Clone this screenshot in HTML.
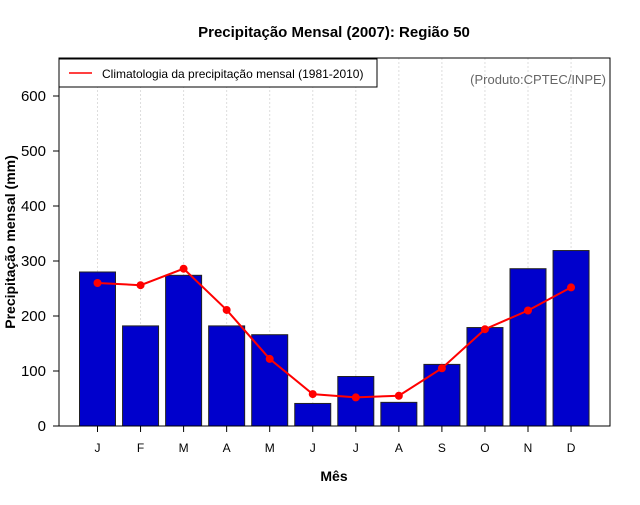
<!DOCTYPE html>
<html><head><meta charset="utf-8"><style>body{margin:0;background:#fff}svg text{font-family:"Liberation Sans",sans-serif}</style></head>
<body>
<svg width="640" height="500" xmlns="http://www.w3.org/2000/svg">
<rect width="640" height="500" fill="#fff"/>
<text x="334" y="37" text-anchor="middle" font-size="15" font-weight="bold">Precipitação Mensal (2007): Região 50</text>
<g id="grid"></g>
<g id="bars"></g>
<g id="line"></g>
<rect x="59" y="58" width="551" height="368" fill="none" stroke="#000" stroke-width="1"/>
<g id="yaxis" font-size="15"></g>
<g id="xaxis" font-size="12"></g>
<text x="334" y="481" text-anchor="middle" font-size="14" font-weight="bold">Mês</text>
<text transform="translate(15,242) rotate(-90)" text-anchor="middle" font-size="14" font-weight="bold">Precipitação mensal (mm)</text>
<g>
<rect x="59" y="59" width="318" height="28" fill="#fff" stroke="#000" stroke-width="1"/>
<line x1="69" y1="73" x2="92" y2="73" stroke="red" stroke-width="1.5"/>
<text x="102" y="78" font-size="12">Climatologia da precipitação mensal (1981-2010)</text>
</g>
<text x="606" y="84" text-anchor="end" font-size="13" fill="#666">(Produto:CPTEC/INPE)</text>
</svg>
<script>
const months = ["J","F","M","A","M","J","J","A","S","O","N","D"];
const observed = [280,182,274,182,166,41,90,43,112,179,286,319];
const climatology = [260,256,286,211,122,58,52,55,105,176,210,252];
const yTicks = [0,100,200,300,400,500,600];
const ns = "http://www.w3.org/2000/svg";
const xs = i => 97.5 + i*43.05;
const ys = v => 426 - v*0.55;
function mk(tag, attrs, parent){const e=document.createElementNS(ns,tag);for(const k in attrs)e.setAttribute(k,attrs[k]);document.getElementById(parent).appendChild(e);return e;}
months.forEach((m,i)=>{
  const g=mk("line",{x1:xs(i),x2:xs(i),y1:58,y2:426,stroke:"#ddd","stroke-dasharray":"2,2"},"grid");
  
  
  const b=mk("rect",{x:xs(i)-18,y:ys(observed[i]),width:36,height:ys(0)-ys(observed[i]),fill:"#0000cc",stroke:"#222","stroke-width":1},"bars");
  
  
  const t=mk("line",{x1:xs(i),x2:xs(i),y1:426,y2:432,stroke:"#000"},"xaxis");
  
  
  const l=mk("text",{x:xs(i),y:452,"text-anchor":"middle"},"xaxis");
  l.textContent=m;
  
  
});
const p=mk("polyline",{points:climatology.map((v,i)=>xs(i)+","+ys(v)).join(" "),fill:"none",stroke:"red","stroke-width":2},"line");


climatology.forEach((v,i)=>{
  const c=mk("circle",{cx:xs(i),cy:ys(v),r:4,fill:"red"},"line");
  
  
});
yTicks.forEach(v=>{
  const t=mk("line",{x1:53,x2:59,y1:ys(v),y2:ys(v),stroke:"#000"},"yaxis");
  
  
  const l=mk("text",{x:46,y:ys(v)+5,"text-anchor":"end"},"yaxis");
  l.textContent=v;
  
  
});
</script>
</body></html>
